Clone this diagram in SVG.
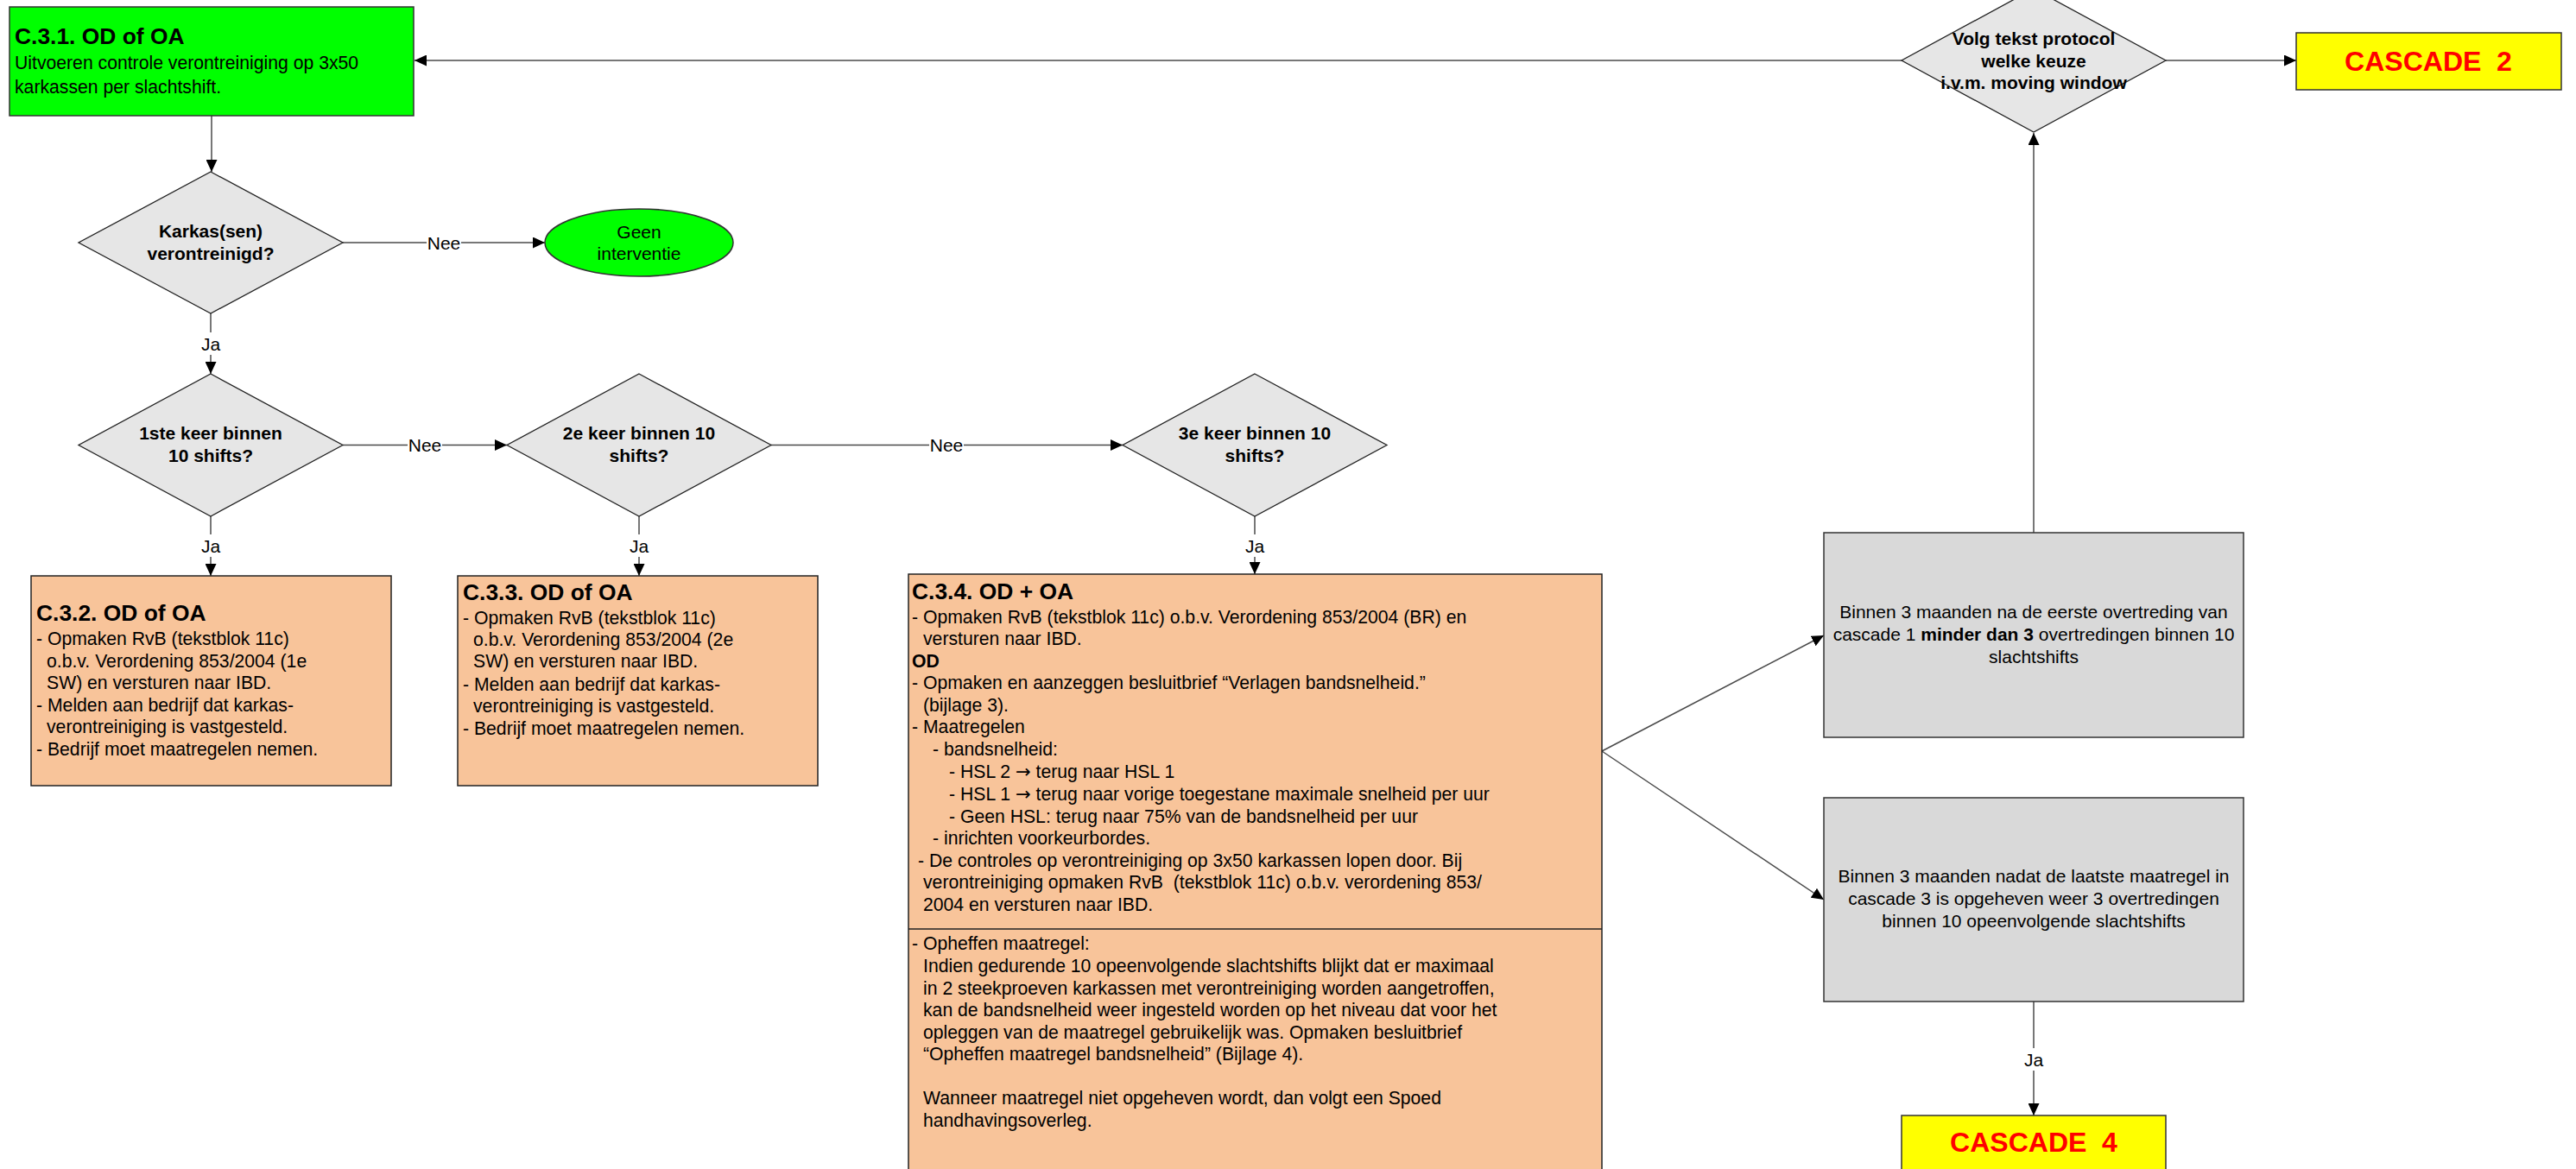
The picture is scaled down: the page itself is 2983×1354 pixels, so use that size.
<svg xmlns="http://www.w3.org/2000/svg" width="2983" height="1354" viewBox="0 0 2983 1354">
<style>
text{font-family:"Liberation Sans",Arial,sans-serif;fill:#000}
.t{font-size:21.2px}
.b{font-size:21.2px;font-weight:bold}
.h{font-size:26.4px;font-weight:bold}
.c{font-size:21px;text-anchor:middle}
.cb{font-size:21px;font-weight:bold;text-anchor:middle}
.cas{font-size:32px;font-weight:bold;fill:#FF0000;text-anchor:middle}
.ar{font-family:"DejaVu Sans",sans-serif}
.dia{fill:#E6E6E6;stroke:#222;stroke-width:1.3}
.org{fill:#F8C49A;stroke:#222;stroke-width:1.5}
.gry{fill:#D9D9D9;stroke:#333;stroke-width:1.5}
.yel{fill:#FFFF00;stroke:#333;stroke-width:1.5}
.grn{fill:#00FF00;stroke:#333;stroke-width:1.5}
.conn{fill:none;stroke:#4a4a4a;stroke-width:1.5}
.arr{marker-end:url(#ah)}
.lbg{fill:#fff}
</style>
<defs>
<marker id="ah" markerUnits="userSpaceOnUse" markerWidth="15" markerHeight="13" refX="14" refY="6.5" orient="auto">
<path d="M0,0 L14,6.5 L0,13 z" fill="#000"/>
</marker>
</defs>
<rect width="2983" height="1354" fill="#fff"/>

<g id="connectors">
<path class="conn arr" d="M245,134 L245,199"/>
<path class="conn arr" d="M397,281 L631,281"/>
<path class="conn arr" d="M244,363 L244,433"/>
<path class="conn arr" d="M397,515.5 L587,515.5"/>
<path class="conn arr" d="M893,515.5 L1300,515.5"/>
<path class="conn arr" d="M244,598 L244,667"/>
<path class="conn arr" d="M740,598 L740,667"/>
<path class="conn arr" d="M1453,598 L1453,665"/>
<path class="conn arr" d="M2202,70 L480,70"/>
<path class="conn arr" d="M2508,70 L2659,70"/>
<path class="conn arr" d="M2355,617 L2355,154"/>
<path class="conn arr" d="M1855,870 L2112,736"/>
<path class="conn arr" d="M1855,870 L2112,1042"/>
<path class="conn arr" d="M2355,1160 L2355,1292"/>
<rect class="lbg" x="494" y="268" width="40" height="26"/>
<text class="c" x="514" y="288.5">Nee</text>
<rect class="lbg" x="472" y="502" width="40" height="26"/>
<text class="c" x="492" y="523">Nee</text>
<rect class="lbg" x="1076" y="502" width="40" height="26"/>
<text class="c" x="1096" y="523">Nee</text>
<rect class="lbg" x="232" y="385" width="24" height="26"/>
<text class="c" x="244" y="405.5">Ja</text>
<rect class="lbg" x="232" y="619" width="24" height="26"/>
<text class="c" x="244" y="639.5">Ja</text>
<rect class="lbg" x="728" y="619" width="24" height="26"/>
<text class="c" x="740" y="639.5">Ja</text>
<rect class="lbg" x="1441" y="619" width="24" height="26"/>
<text class="c" x="1453" y="639.5">Ja</text>
<rect class="lbg" x="2343" y="1214" width="24" height="26"/>
<text class="c" x="2355" y="1234.5">Ja</text>
</g>

<g id="c31">
<rect class="grn" x="11" y="8" width="468" height="126"/>
<text class="h" x="17" y="51">C.3.1. OD of OA</text>
<text class="t" x="17" y="80">Uitvoeren controle verontreiniging op 3x50</text>
<text class="t" x="17" y="108">karkassen per slachtshift.</text>
</g>

<g id="d-karkas">
<polygon class="dia" points="244,199 397,281 244,363 91,281"/>
<text class="cb" x="244" y="275">Karkas(sen)</text>
<text class="cb" x="244" y="301">verontreinigd?</text>
</g>

<g id="geen">
<ellipse class="grn" cx="740" cy="281" rx="109" ry="39"/>
<text class="c" x="740" y="276">Geen</text>
<text class="c" x="740" y="301">interventie</text>
</g>

<g id="d-1ste">
<polygon class="dia" points="244,433 397,515.5 244,598 91,515.5"/>
<text class="cb" x="244" y="509">1ste keer binnen</text>
<text class="cb" x="244" y="535">10 shifts?</text>
</g>

<g id="d-2e">
<polygon class="dia" points="740,433 893,515.5 740,598 587,515.5"/>
<text class="cb" x="740" y="509">2e keer binnen 10</text>
<text class="cb" x="740" y="535">shifts?</text>
</g>

<g id="d-3e">
<polygon class="dia" points="1453,433 1606,515.5 1453,598 1300,515.5"/>
<text class="cb" x="1453" y="509">3e keer binnen 10</text>
<text class="cb" x="1453" y="535">shifts?</text>
</g>

<g id="c32">
<rect class="org" x="36" y="667" width="417" height="243"/>
<text class="h" x="42" y="719">C.3.2. OD of OA</text>
<text class="t" x="42" y="747">- Opmaken RvB (tekstblok 11c)</text>
<text class="t" x="54" y="773">o.b.v. Verordening 853/2004 (1e</text>
<text class="t" x="54" y="798">SW) en versturen naar IBD.</text>
<text class="t" x="42" y="824">- Melden aan bedrijf dat karkas-</text>
<text class="t" x="54" y="849">verontreiniging is vastgesteld.</text>
<text class="t" x="42" y="875">- Bedrijf moet maatregelen nemen.</text>
</g>

<g id="c33">
<rect class="org" x="530" y="667" width="417" height="243"/>
<text class="h" x="536" y="695">C.3.3. OD of OA</text>
<text class="t" x="536" y="723">- Opmaken RvB (tekstblok 11c)</text>
<text class="t" x="548" y="748">o.b.v. Verordening 853/2004 (2e</text>
<text class="t" x="548" y="773">SW) en versturen naar IBD.</text>
<text class="t" x="536" y="800">- Melden aan bedrijf dat karkas-</text>
<text class="t" x="548" y="825">verontreiniging is vastgesteld.</text>
<text class="t" x="536" y="851">- Bedrijf moet maatregelen nemen.</text>
</g>

<g id="c34">
<rect class="org" x="1052" y="665" width="803" height="700"/>
<line x1="1052" y1="1076" x2="1855" y2="1076" stroke="#222" stroke-width="1.5"/>
<text class="h" x="1056" y="694">C.3.4. OD + OA</text>
<text class="t" x="1056" y="722">- Opmaken RvB (tekstblok 11c) o.b.v. Verordening 853/2004 (BR) en</text>
<text class="t" x="1069" y="747">versturen naar IBD.</text>
<text class="b" x="1056" y="773">OD</text>
<text class="t" x="1056" y="798">- Opmaken en aanzeggen besluitbrief “Verlagen bandsnelheid.”</text>
<text class="t" x="1069" y="824">(bijlage 3).</text>
<text class="t" x="1056" y="849">- Maatregelen</text>
<text class="t" x="1080" y="875">- bandsnelheid:</text>
<text class="t" x="1099" y="901">- HSL 2 <tspan class="ar">→</tspan> terug naar HSL 1</text>
<text class="t" x="1099" y="927">- HSL 1 <tspan class="ar">→</tspan> terug naar vorige toegestane maximale snelheid per uur</text>
<text class="t" x="1099" y="953">- Geen HSL: terug naar 75% van de bandsnelheid per uur</text>
<text class="t" x="1080" y="978">- inrichten voorkeurbordes.</text>
<text class="t" x="1063" y="1004">- De controles op verontreiniging op 3x50 karkassen lopen door. Bij</text>
<text class="t" x="1069" y="1029" xml:space="preserve">verontreiniging opmaken RvB  (tekstblok 11c) o.b.v. verordening 853/</text>
<text class="t" x="1069" y="1055">2004 en versturen naar IBD.</text>
<text class="t" x="1056" y="1100">- Opheffen maatregel:</text>
<text class="t" x="1069" y="1126">Indien gedurende 10 opeenvolgende slachtshifts blijkt dat er maximaal</text>
<text class="t" x="1069" y="1152">in 2 steekproeven karkassen met verontreiniging worden aangetroffen,</text>
<text class="t" x="1069" y="1177">kan de bandsnelheid weer ingesteld worden op het niveau dat voor het</text>
<text class="t" x="1069" y="1203">opleggen van de maatregel gebruikelijk was. Opmaken besluitbrief</text>
<text class="t" x="1069" y="1228">“Opheffen maatregel bandsnelheid” (Bijlage 4).</text>
<text class="t" x="1069" y="1279">Wanneer maatregel niet opgeheven wordt, dan volgt een Spoed</text>
<text class="t" x="1069" y="1305">handhavingsoverleg.</text>
</g>

<g id="d-volg">
<polygon class="dia" points="2355,-13 2508,70 2355,153 2202,70"/>
<text class="cb" x="2355" y="52">Volg tekst protocol</text>
<text class="cb" x="2355" y="77.5">welke keuze</text>
<text class="cb" x="2355" y="103">i.v.m. moving window</text>
</g>

<g id="cascade2">
<rect class="yel" x="2659" y="38" width="307" height="66"/>
<text class="cas" x="2812" y="82" xml:space="preserve">CASCADE  2</text>
</g>

<g id="grey1">
<rect class="gry" x="2112" y="617" width="486" height="237"/>
<text class="c" x="2355" y="716">Binnen 3 maanden na de eerste overtreding van</text>
<text class="c" x="2355" y="742">cascade 1 <tspan font-weight="bold">minder dan 3</tspan> overtredingen binnen 10</text>
<text class="c" x="2355" y="768">slachtshifts</text>
</g>

<g id="grey2">
<rect class="gry" x="2112" y="924" width="486" height="236"/>
<text class="c" x="2355" y="1022">Binnen 3 maanden nadat de laatste maatregel in</text>
<text class="c" x="2355" y="1048">cascade 3 is opgeheven weer 3 overtredingen</text>
<text class="c" x="2355" y="1074">binnen 10 opeenvolgende slachtshifts</text>
</g>

<g id="cascade4">
<rect class="yel" x="2202" y="1292" width="306" height="70"/>
<text class="cas" x="2355" y="1334" xml:space="preserve">CASCADE  4</text>
</g>
</svg>
